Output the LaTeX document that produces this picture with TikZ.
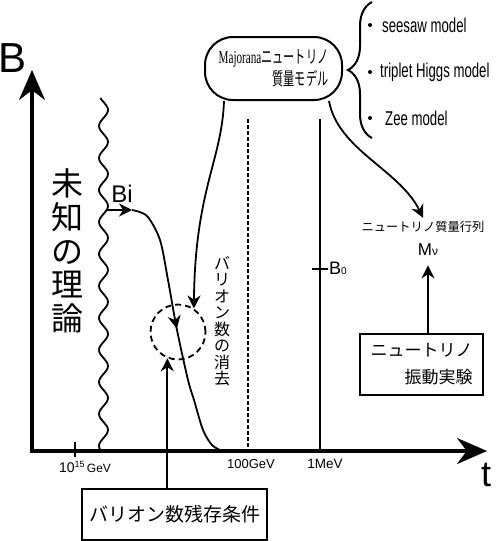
\documentclass[tikz,border=0pt]{standalone}
\usepackage{fontspec}
\usepackage{graphicx}
\setmainfont{Liberation Sans}
\newfontfamily\jp{Noto Sans CJK JP}
\newfontfamily\serifnarrow{Liberation Serif}
\usetikzlibrary{arrows.meta,decorations.pathreplacing,decorations.markings}
\newcommand{\fs}[1]{\fontsize{#1}{#1}\selectfont}
\tikzset{
  axis/.style={line width=3.2pt, {Stealth[length=30pt,width=26pt]}-{Stealth[length=30pt,width=26pt]}},
  conn/.style={line width=1.8pt, ->},
  textbox/.style={draw, line width=2.4pt, inner sep=0pt},
  dot/.style={circle, fill, inner sep=0pt, minimum size=4pt},
  item/.style={anchor=west, inner sep=0pt},
  midarrow/.style={postaction={decorate}, decoration={markings, mark=at position 0.5 with {\arrow{>}}}}
}
\begin{document}
\begin{tikzpicture}[>={Stealth[length=13pt,width=13pt]}, x=1pt, y=-1pt]
  \useasboundingbox (0,0) rectangle (497,541);
  \coordinate (orig) at (32,451);
  \coordinate (ytip) at (32,70);
  \coordinate (xtip) at (487,451);
  \draw[axis] (ytip) -- (orig) -- (xtip);
  \node (lblB) at (13,58) {\fs{42}B};
  \node (lblt) at (486,475) {\fs{36}t};
  \draw[line width=1.8pt] plot[domain=98:450, samples=160] ({103.5+4.5*sin((\x-98)*11.25-45)}, \x);
  \node[align=center, font=\jp\fontsize{32}{33.6}\selectfont] (unk) at (67,251) {未\\知\\の\\理\\論};
  \draw[line width=1.5pt] (75,442) -- (75,457);
  \node (lbl15) at (85,467) {\fs{14}10\raisebox{5pt}{\fs{9}15}\,{\fs{12}GeV}};
  \coordinate (bi) at (106,210);
  \coordinate (bistart) at (132,210);
  \draw[conn] (bi) -- (bistart);
  \node (lblBi) at (122,194) {\fs{24}Bi};
  \draw[line width=1.8pt, midarrow] plot[smooth] coordinates {(132,210) (147,216) (160,240) (168,280) (177,330) (188,380) (194,400) (203,430) (212,445) (222,451)};
  \node[draw, circle, minimum size=55pt, line width=1.8pt, dash pattern=on 6pt off 4pt] (circ) at (178,332) {};
  \node[align=center, font=\jp\fontsize{16}{16.5}\selectfont] (erase) at (222,321) {バ\\リ\\オ\\ン\\数\\の\\消\\去};
  \coordinate (ewtop) at (248,119);
  \coordinate (ew) at (248,451);
  \coordinate (nuctop) at (320,119);
  \coordinate (nuc) at (320,451);
  \draw[line width=1.5pt, dash pattern=on 4pt off 2pt] (ewtop) -- (ew);
  \draw[line width=1.8pt] (nuctop) -- (nuc);
  \node (lblew) at (251,464) {\fs{13}100GeV};
  \node (lblnuc) at (325,464) {\fs{13.5}1MeV};
  \draw[line width=1.8pt] (312,269) -- (328,269);
  \node[anchor=west, inner sep=0pt] (lblB0) at (329,268) {\fs{18}B{\fs{10}0}};
  \node[draw, rounded corners=28pt, line width=2pt, minimum width=137pt, minimum height=63pt, align=right, font=\fontsize{18}{22}\selectfont] (maj) at (273.5,68.5)
    {\scalebox{0.62}[1]{\serifnarrow Majorana\jp ニュートリノ}\\\scalebox{0.62}[1]{\jp 質量モデル}};
  \draw[line width=2pt, decorate, decoration={brace, mirror, amplitude=24pt}] (372,2) -- (372,138);
  \foreach \yy/\xx/\txt in {25/382/seesaw model, 72/380/triplet Higgs model, 118/385/Zee model} {
    \node[dot] (dot\yy) at (370,\yy) {};
    \node[item] (item\yy) at (\xx,\yy) {\scalebox{0.66}[1]{\fs{20}\txt}};
  }
  \node (nmlabel) at (423,227) {\jp\fs{12.3}ニュートリノ質量行列};
  \node (mnu) at (428,250) {\fs{17}M{\fs{12}ν}};
  \node[textbox, minimum width=123pt, minimum height=61pt, align=right, font=\jp\fontsize{17}{27}\selectfont] (osc) at (421.5,364.5) {ニュートリノ\\振動実験};
  \node[textbox, minimum width=185pt, minimum height=51pt, font=\jp\fs{19}] (bar) at (174.5,514.5) {バリオン数残存条件};
  \draw[conn] ([xshift=20pt]maj.south west) .. controls (222,160) and (195,190) .. (circ.56);
  \draw[conn] ([xshift=-14pt]maj.south east) .. controls (338,150) and (400,170) .. (nmlabel.north);
  \draw[conn] (osc.north -| mnu) -- ([yshift=-6pt]mnu.south);
  \draw[conn] (bar.north -| circ.248) -- (circ.248);
\end{tikzpicture}
\end{document}
